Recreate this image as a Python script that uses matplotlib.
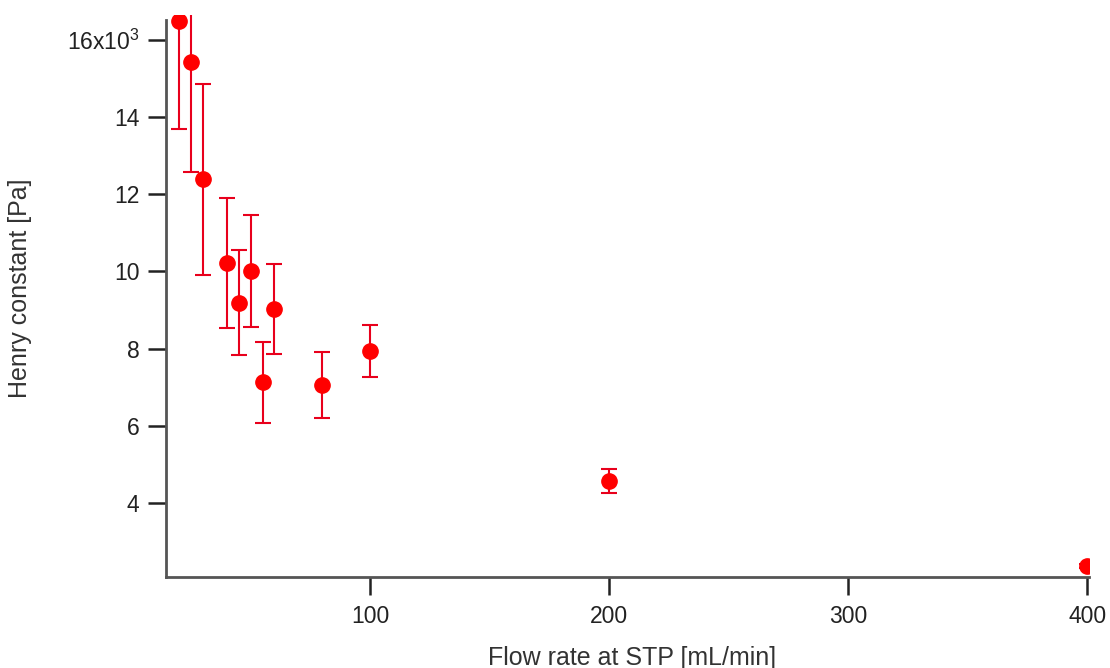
import matplotlib
matplotlib.use('Agg')
import matplotlib.pyplot as plt
import numpy as np

# flow rate [mL/min] and Henry constant [x10^3 Pa] with error bars
flow = [20, 25, 30, 40, 45, 50, 55, 60, 80, 100, 200, 400]
henry = [16.49, 15.42, 12.38, 10.22, 9.18, 10.00, 7.12, 9.02, 7.05, 7.93, 4.56, 2.37]
err = [2.79, 2.84, 2.47, 1.68, 1.36, 1.45, 1.04, 1.16, 0.85, 0.67, 0.31, 0.05]

yticks = [4, 6, 8, 10, 12, 14, 16]
ylabels = ['4', '6', '8', '10', '12', '14', '16x10$^{3}$']
xticks = [100, 200, 300, 400]

plt.rcParams['font.family'] = ['Liberation Sans', 'DejaVu Sans']
plt.rcParams['mathtext.fontset'] = 'custom'
plt.rcParams['mathtext.rm'] = 'Liberation Sans'
plt.rcParams['mathtext.it'] = 'Liberation Sans'

fig = plt.figure(figsize=(11.1, 6.68), dpi=100)
ax = fig.add_axes([0.1495, 0.1362, 0.832, 0.8407])

ax.errorbar(flow, henry, yerr=err, fmt='o', color='#ff0000', ecolor='#e8001c',
            markersize=11, elinewidth=1.5, capsize=5.5, capthick=1.5)

ax.set_xlim(14.6, 401)
ax.set_ylim(2.08, 16.63)
ax.spines['top'].set_visible(False)
ax.spines['right'].set_visible(False)
for s in ['left', 'bottom']:
    ax.spines[s].set_color('#555555')
    ax.spines[s].set_linewidth(2)
ax.spines['left'].set_bounds(2.08, 16.51)

ax.set_xticks(xticks)
ax.set_yticks(yticks)
ax.set_yticklabels(ylabels)
ax.tick_params(axis='both', colors='#222222', labelsize=16.5, width=1.8)
ax.tick_params(axis='y', length=13, pad=6)
ax.tick_params(axis='x', length=13, pad=7)

ax.set_xlabel('Flow rate at STP [mL/min]', fontsize=18, color='#333333')
ax.set_ylabel('Henry constant [Pa]', fontsize=18, color='#333333')
ax.yaxis.set_label_coords(-0.145, 0.515)
ax.xaxis.set_label_coords(0.505, -0.122)

fig.savefig('out.png', dpi=100)
